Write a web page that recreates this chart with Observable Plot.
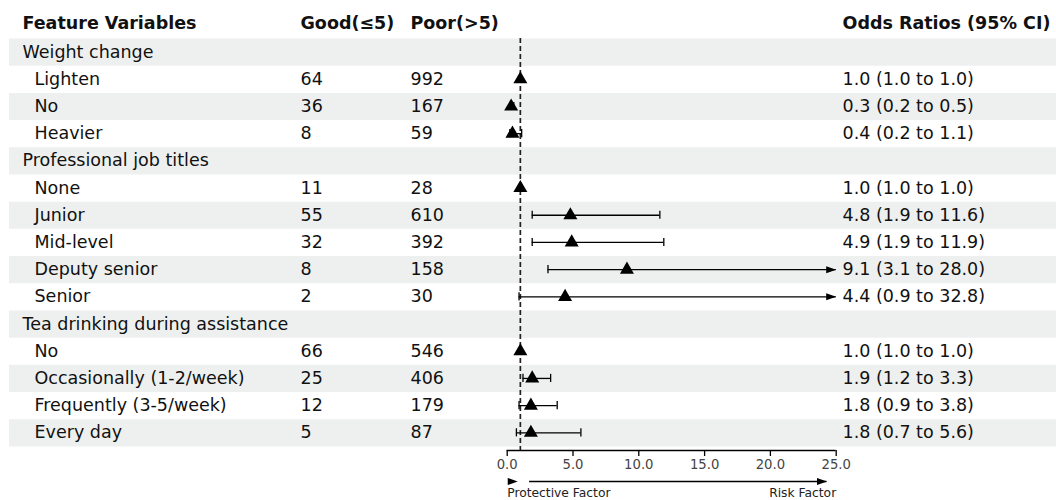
<!DOCTYPE html>
<html><head><meta charset="utf-8">
<script src="https://cdn.jsdelivr.net/npm/d3@7"></script>
<script src="https://cdn.jsdelivr.net/npm/@observablehq/plot@0.6"></script>
<style>html,body{margin:0;padding:0;background:#fff;} svg{display:block}</style>
</head><body><div id="chart"></div>
<script>
// ---- data ----
const labels = ["Weight change","Lighten","No","Heavier","Professional job titles","None","Junior","Mid-level","Deputy senior","Senior","Tea drinking during assistance","No","Occasionally (1-2/week)","Frequently (3-5/week)","Every day"];
const isGroup = [true,false,false,false,true,false,false,false,false,false,true,false,false,false,false];
const good = [null,64,36,8,null,11,55,32,8,2,null,66,25,12,5];
const poor = [null,992,167,59,null,28,610,392,158,30,null,546,406,179,87];
const orValue = [null,1.0,0.3,0.4,null,1.0,4.8,4.9,9.1,4.4,null,1.0,1.9,1.8,1.8];
const ciLow = [null,1.0,0.2,0.2,null,1.0,1.9,1.9,3.1,0.9,null,1.0,1.2,0.9,0.7];
const ciHigh = [null,1.0,0.5,1.1,null,1.0,11.6,11.9,28.0,32.8,null,1.0,3.3,3.8,5.6];
const headers = ["Feature Variables","Good(≤5)","Poor(>5)","Odds Ratios (95% CI)"];
const xTicks = [0,5,10,15,20,25];
const xMax = 25;
const nullValue = 1;
const directionLabels = ["Protective Factor","Risk Factor"];
const directionArrows = [{x1: 0, x2: 0.8}, {x1: 1.7, x2: 24.3}];

// ---- derived ----
const fmt = d3.format(".1f");
const rows = labels.map((label, i) => ({row: i, label, group: isGroup[i], good: good[i], poor: poor[i], or: orValue[i], lo: ciLow[i], hi: ciHigh[i]}));
const est = rows.filter(d => d.or != null).map(d => ({...d, orText: `${fmt(d.or)} (${fmt(d.lo)} to ${fmt(d.hi)})`}));
const ci = est.filter(d => d.hi > d.lo);
const yMax = labels.length - 0.35;
const capHalf = 0.15;
const col = {group: 22, item: 34, good: 300, poor: 410, or: 842};

const rightArrow = {draw(ctx, size) {
  const L = Math.sqrt(size / Math.PI) * 2, h = L * 0.35;
  ctx.moveTo(0, 0); ctx.lineTo(-L, -h); ctx.lineTo(-L, h); ctx.closePath();
}};

const txt = (data, opts) => Plot.text(data, {frameAnchor: "left", textAnchor: "start", lineAnchor: "middle", fill: "#111", fontSize: 17.5, ...opts});

const chart = Plot.plot({
  width: 1056, height: 500,
  marginTop: 38, marginBottom: 50, marginLeft: 0, marginRight: 0,
  style: {fontFamily: "'DejaVu Sans', sans-serif", fontSize: "17.5px", background: "white", color: "black"},
  x: {domain: [0, xMax], range: [506.7, 835.7]},
  y: {domain: [-0.5, yMax], reverse: true, axis: null},
  marks: [
    Plot.ruleY(rows.filter(d => d.row % 2 === 0), {y: "row", stroke: "#eef0ef", strokeWidth: 27.2, insetLeft: 9}),
    Plot.ruleX([nullValue], {stroke: "#222", strokeWidth: 1.7, strokeDasharray: "5,3"}),
    Plot.ruleY([yMax], {x1: 0, x2: xMax, stroke: "black", strokeWidth: 1.3}),
    Plot.axisX(xTicks, {anchor: "bottom", tickFormat: fmt, tickSize: 6, tickPadding: 3, fontSize: 13.2, fill: "#444", stroke: "black", strokeWidth: 1.3}),
    // CI lines
    Plot.ruleY(ci, {y: "row", x1: "lo", x2: d => Math.min(d.hi, xMax), stroke: "black", strokeWidth: 1.3}),
    Plot.ruleX(ci, {x: "lo", y1: d => d.row - capHalf, y2: d => d.row + capHalf, stroke: "black", strokeWidth: 1.3}),
    Plot.ruleX(ci.filter(d => d.hi <= xMax), {x: "hi", y1: d => d.row - capHalf, y2: d => d.row + capHalf, stroke: "black", strokeWidth: 1.3}),
    Plot.dot(ci.filter(d => d.hi > xMax), {x: () => xMax, y: "row", symbol: rightArrow, r: 5, fill: "black", stroke: null}),
    Plot.dot(est, {x: "or", y: "row", symbol: "triangle", r: 5.2, fill: "black", stroke: null}),
    // table text
    txt([headers[0]], {y: () => -1, text: d => d, dx: col.group, dy: -2, fontWeight: "bold"}),
    txt([headers[1]], {y: () => -1, text: d => d, dx: col.good, dy: -2, fontWeight: "bold"}),
    txt([headers[2]], {y: () => -1, text: d => d, dx: col.poor, dy: -2, fontWeight: "bold"}),
    txt([headers[3]], {y: () => -1, text: d => d, dx: col.or, dy: -2, fontWeight: "bold"}),
    txt(rows.filter(d => d.group), {y: "row", text: "label", dx: col.group}),
    txt(rows.filter(d => !d.group), {y: "row", text: "label", dx: col.item}),
    txt(rows.filter(d => d.good != null), {y: "row", text: "good", dx: col.good}),
    txt(rows.filter(d => d.poor != null), {y: "row", text: "poor", dx: col.poor}),
    txt(est, {y: "row", text: "orText", dx: col.or}),
    // direction arrows
    Plot.ruleY(directionArrows.slice(1), {y: () => yMax, x1: "x1", x2: "x2", dy: 31, stroke: "black", strokeWidth: 1.3}),
    Plot.dot(directionArrows, {x: "x2", y: () => yMax, dy: 31, symbol: rightArrow, r: 5, fill: "black", stroke: null}),
    Plot.text([directionLabels[0]], {x: () => 0, y: () => yMax, dy: 42.5, text: d => d, textAnchor: "start", fontSize: 12.3, fill: "#222"}),
    Plot.text([directionLabels[1]], {x: () => xMax, y: () => yMax, dy: 42.5, text: d => d, textAnchor: "end", fontSize: 12.3, fill: "#222"})
  ]
});
document.getElementById("chart").appendChild(chart);
</script>
</body></html>
